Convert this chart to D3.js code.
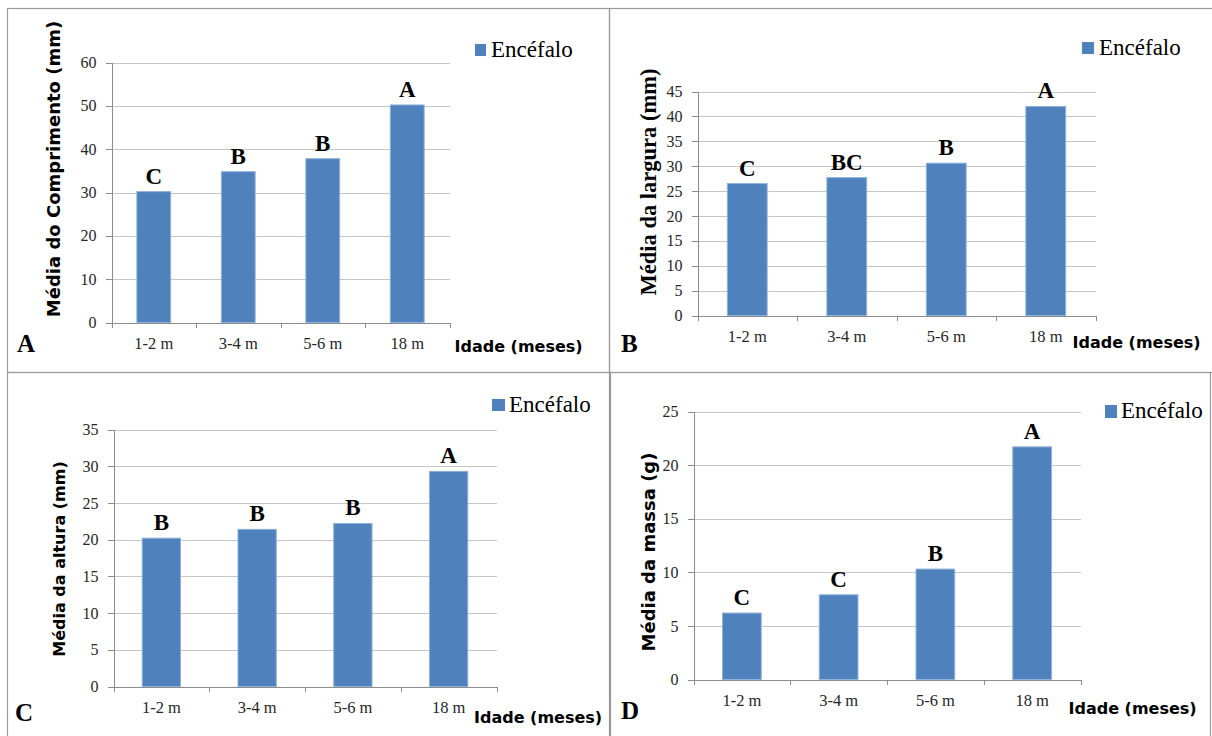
<!DOCTYPE html>
<meta charset="utf-8">
<style>
  body { margin: 0; background: #fff; }
  .serif { font-family: "Liberation Serif", "Times New Roman", serif; }
  .sans  { font-family: "DejaVu Sans", Verdana, sans-serif; font-weight: bold; }
  .axis path, .axis line { fill: none; stroke: #8c8c8c; shape-rendering: crispEdges; }
  .grid line { stroke: #c6c6c6; shape-rendering: crispEdges; }
  .grid path { display: none; }
</style>
<body>
<svg id="chart" width="1212" height="736"></svg>

<script src="https://cdn.jsdelivr.net/npm/d3@7/dist/d3.min.js"></script>
<script>

// ---- data ----
var idades = ["1-2 m", "3-4 m", "5-6 m", "18 m"];

var comprimento = [30.2, 34.8, 37.8, 50.2];
var letrasComprimento = ["C", "B", "B", "A"];
var ticksComprimento = [0, 10, 20, 30, 40, 50, 60];

var largura = [26.5, 27.7, 30.6, 42.0];
var letrasLargura = ["C", "BC", "B", "A"];
var ticksLargura = [0, 5, 10, 15, 20, 25, 30, 35, 40, 45];

var altura = [20.2, 21.4, 22.2, 29.3];
var letrasAltura = ["B", "B", "B", "A"];
var ticksAltura = [0, 5, 10, 15, 20, 25, 30, 35];

var massa = [6.2, 7.9, 10.3, 21.7];
var letrasMassa = ["C", "C", "B", "A"];
var ticksMassa = [0, 5, 10, 15, 20, 25];

var serie = "Encéfalo";
var xTitle = "Idade (meses)";

// ---- layout of the four panels (page pixels) ----
var panels = [
  { name: "A", values: comprimento, letters: letrasComprimento, ticks: ticksComprimento,
    yTitle: "Média do Comprimento (mm)", titleSerif: false, titleSize: 18,
    titleX: 60, titleY: 169,
    box: [7.5, 8.5, 609.5, 372.5],
    plot: { left: 111.5, right: 449.5, top: 62.5, bottom: 322.5 },
    legend: { x: 475, y: 44, w: 11, h: 12, tx: 491, ty: 57 },
    xTitleX: 454.5, xTitleY: 352, tag: [17, 352] },
  { name: "B", values: largura, letters: letrasLargura, ticks: ticksLargura,
    yTitle: "Média da largura (mm)", titleSerif: true, titleSize: 22.5,
    titleX: 655.5, titleY: 182,
    box: [609.5, 8.5, 1214, 372.5],
    plot: { left: 697.5, right: 1095.5, top: 91.5, bottom: 315.5 },
    legend: { x: 1082, y: 42, w: 12, h: 12, tx: 1099, ty: 55 },
    xTitleX: 1072.5, xTitleY: 348, tag: [621, 352] },
  { name: "C", values: altura, letters: letrasAltura, ticks: ticksAltura,
    yTitle: "Média da altura (mm)", titleSerif: false, titleSize: 16,
    titleX: 64.5, titleY: 559,
    box: [7.5, 372.5, 609.5, 740],
    plot: { left: 113.5, right: 496.5, top: 429.5, bottom: 686.5 },
    legend: { x: 492, y: 399, w: 13, h: 12, tx: 509, ty: 412 },
    xTitleX: 474, xTitleY: 723, tag: [15, 721] },
  { name: "D", values: massa, letters: letrasMassa, ticks: ticksMassa,
    yTitle: "Média da massa (g)", titleSerif: false, titleSize: 18,
    titleX: 654.5, titleY: 552,
    box: [610.5, 372.5, 1210.5, 740],
    plot: { left: 693.5, right: 1080.5, top: 411.5, bottom: 679.5 },
    legend: { x: 1105, y: 405, w: 12, h: 13, tx: 1121, ty: 418 },
    xTitleX: 1068.5, xTitleY: 714, tag: [621, 719] }
];

var svg = d3.select("#chart");

// panel frames
svg.selectAll("rect.frame")
    .data(panels)
  .enter().append("rect")
    .attr("class", "frame")
    .attr("x", function(p) { return p.box[0]; })
    .attr("y", function(p) { return p.box[1]; })
    .attr("width", function(p) { return p.box[2] - p.box[0]; })
    .attr("height", function(p) { return p.box[3] - p.box[1]; })
    .attr("fill", "none")
    .attr("stroke", "#9a9a9a")
    .attr("stroke-width", 1.2);

panels.forEach(function(p) {
  var w = p.plot.right - p.plot.left;
  var h = p.plot.bottom - p.plot.top;
  var yMax = p.ticks[p.ticks.length - 1];

  var g = svg.append("g")
      .attr("transform", "translate(" + p.plot.left + "," + p.plot.top + ")");

  var x = d3.scaleBand()
      .domain(idades)
      .range([0, w])
      .paddingInner(0.6)
      .paddingOuter(0.3);

  var y = d3.scaleLinear()
      .domain([0, yMax])
      .range([h, 0]);

  // horizontal gridlines
  g.append("g")
      .attr("class", "grid")
      .call(d3.axisLeft(y).tickValues(p.ticks).tickSize(-w).tickFormat(""));

  // bars
  var rows = idades.map(function(c, i) {
    return { cat: c, v: p.values[i], letter: p.letters[i] };
  });

  g.selectAll("rect.bar")
      .data(rows)
    .enter().append("rect")
      .attr("class", "bar")
      .attr("x", function(d) { return x(d.cat); })
      .attr("y", function(d) { return y(d.v); })
      .attr("width", x.bandwidth())
      .attr("height", function(d) { return h - y(d.v); })
      .attr("fill", "#4f81bd")
      .attr("stroke", "#8fb1dc")
      .attr("stroke-width", 1);

  // significance letters
  g.selectAll("text.sig")
      .data(rows)
    .enter().append("text")
      .attr("class", "serif")
      .attr("x", function(d) { return x(d.cat) + x.bandwidth() / 2; })
      .attr("y", function(d) { return y(d.v) - 8; })
      .attr("text-anchor", "middle")
      .style("font-weight", "bold")
      .style("font-size", "23px")
      .text(function(d) { return d.letter; });

  // y axis
  var yAxis = g.append("g")
      .attr("class", "axis")
      .call(d3.axisLeft(y).tickValues(p.ticks).tickSize(6).tickPadding(9));
  yAxis.selectAll("text")
      .attr("class", "serif")
      .style("font-size", "16px")
      .attr("fill", "#262626");

  // x axis: ticks on category boundaries
  var xb = d3.scaleLinear().domain([0, idades.length]).range([0, w]);
  g.append("g")
      .attr("class", "axis")
      .attr("transform", "translate(0," + h + ")")
      .call(d3.axisBottom(xb).ticks(idades.length).tickSize(5).tickFormat(""));

  var fsX = 16.5;
  var xAxis = g.append("g")
      .attr("transform", "translate(0," + h + ")")
      .call(d3.axisBottom(x).tickSize(0).tickPadding(26 - 0.71 * fsX));
  xAxis.select(".domain").remove();
  xAxis.selectAll("text")
      .attr("class", "serif")
      .style("font-size", fsX + "px")
      .attr("fill", "#262626");

  // y title
  svg.append("text")
      .attr("class", p.titleSerif ? "serif" : "sans")
      .attr("transform", "translate(" + p.titleX + "," + p.titleY + ") rotate(-90)")
      .attr("text-anchor", "middle")
      .style("font-weight", "bold")
      .style("font-size", p.titleSize + "px")
      .text(p.yTitle);

  // x title
  svg.append("text")
      .attr("class", "sans")
      .attr("x", p.xTitleX)
      .attr("y", p.xTitleY)
      .style("font-size", "16px")
      .text(xTitle);

  // legend
  svg.append("rect")
      .attr("x", p.legend.x)
      .attr("y", p.legend.y)
      .attr("width", p.legend.w)
      .attr("height", p.legend.h)
      .attr("fill", "#4f81bd");
  svg.append("text")
      .attr("class", "serif")
      .attr("x", p.legend.tx)
      .attr("y", p.legend.ty)
      .style("font-size", "23px")
      .text(serie);

  // panel tag
  svg.append("text")
      .attr("class", "serif")
      .attr("x", p.tag[0])
      .attr("y", p.tag[1])
      .style("font-weight", "bold")
      .style("font-size", "25px")
      .text(p.name);
});

</script>
</body>
